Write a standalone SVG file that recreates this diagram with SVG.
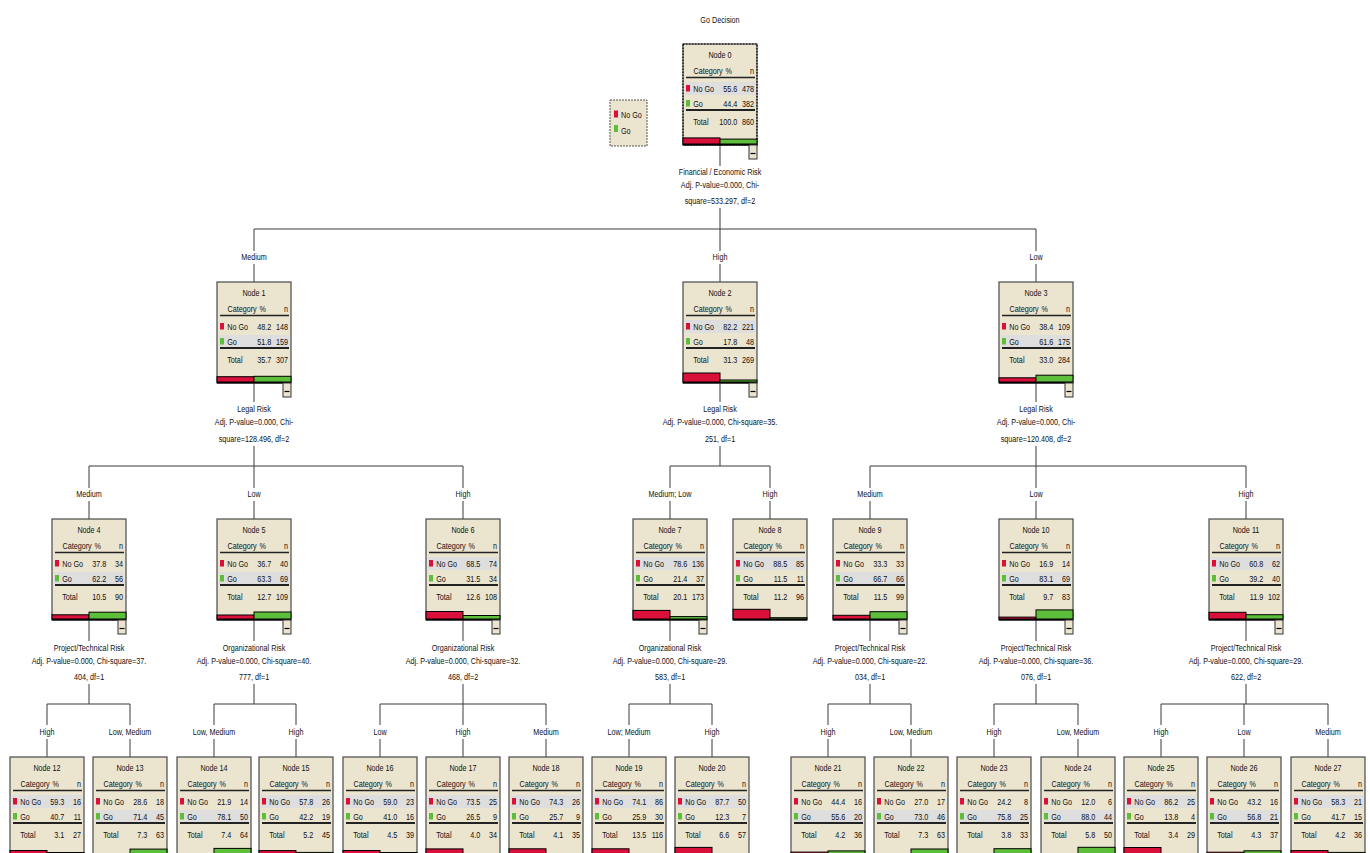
<svg xmlns="http://www.w3.org/2000/svg" xmlns:xlink="http://www.w3.org/1999/xlink" width="1370" height="853" viewBox="0 0 1370 853">
<style>
text{font-family:"Liberation Sans",Arial,sans-serif;font-size:9.5px;fill:#111}
.m{text-anchor:middle}
.e{text-anchor:end}
.bx{fill:#EBE4CF;stroke:#4a4a4a;stroke-width:1.2}
.hl{fill:#DEDEDE}
.r{fill:#D8103A;stroke:#000;stroke-width:1}
.g{fill:#5CBE3A;stroke:#000;stroke-width:1}
.c path{stroke:#3a3a3a;stroke-width:1;fill:none}
</style>
<defs>
<g id="tc">
<line x1="3" x2="72" y1="33.5" y2="33.5" stroke="#222" stroke-width="1.3"/>
<line x1="3" x2="72" y1="66" y2="66" stroke="#222" stroke-width="2"/>
<rect x="3" y="41" width="4" height="6.5" fill="#D8103A"/>
<rect x="3" y="56" width="4" height="6.5" fill="#5CBE3A"/>
<g transform="scale(.76 1)">
<text x="13.8" y="30.3">Category</text>
<text class="m" x="60" y="30.3">%</text>
<text class="e" x="93.4" y="30.3">n</text>
<text x="13.5" y="47.9">No Go</text>
<text x="13.5" y="62.9">Go</text>
<text x="13.5" y="81.4">Total</text>
</g>
<line x1="0" x2="74" y1="100.6" y2="100.6" stroke="#000" stroke-width="1.6"/>
</g>
<g id="tN"><rect class="bx" width="74" height="101"/><rect class="hl" x="2" y="38" width="70" height="13"/><use href="#tc"/></g>
<g id="tG"><rect class="bx" width="74" height="101"/><rect class="hl" x="2" y="53" width="70" height="12"/><use href="#tc"/></g>
<g id="mn"><rect x="66" y="101" width="8" height="14" fill="#EBE4CF" stroke="#333" stroke-width="1"/><line x1="67.5" x2="72.5" y1="109.5" y2="109.5" stroke="#000" stroke-width="1.2"/></g>
</defs>
<rect width="1370" height="853" fill="#fff"/>
<text class="m" transform="translate(720 23.4) scale(.76 1)">Go Decision</text>

<g id="legend">
<rect x="610" y="100" width="37" height="46" fill="#EBE4CF" stroke="#555" stroke-dasharray="2 1"/>
<rect x="614" y="110.5" width="4" height="7" fill="#D8103A"/>
<text transform="translate(621 118.4) scale(.76 1)">No Go</text>
<rect x="614" y="125" width="4" height="7" fill="#5CBE3A"/>
<text transform="translate(621 134) scale(.76 1)">Go</text>
</g>

<g id="connectors" class="c">
<path d="M720 145V166M720 208V229M254 229H1036M254 229V251M254 264V282M720 229V251M720 264V282M1036 229V251M1036 264V282"/>
<path d="M254 383V402M254 446V466M89 466H463M89 466V488M89 501V519M254 466V488M254 501V519M463 466V488M463 501V519"/>
<path d="M720 383V402M720 446V466M670 466H770M670 466V488M670 501V519M770 466V488M770 501V519"/>
<path d="M1036 383V402M1036 446V466M870 466H1246M870 466V488M870 501V519M1036 466V488M1036 501V519M1246 466V488M1246 501V519"/>
<path d="M89 620V641M89 684V704M47 704H130M47 704V725M47 739V757M130 704V725M130 739V757"/>
<path d="M254 620V641M254 684V704M214 704H296M214 704V725M214 739V757M296 704V725M296 739V757"/>
<path d="M463 620V641M463 684V704M380 704H546M380 704V725M380 739V757M463 704V725M463 739V757M546 704V725M546 739V757"/>
<path d="M670 620V641M670 684V704M629 704H712M629 704V725M629 739V757M712 704V725M712 739V757"/>
<path d="M870 620V641M870 684V704M828 704H911M828 704V725M828 739V757M911 704V725M911 739V757"/>
<path d="M1036 620V641M1036 684V704M994 704H1078M994 704V725M994 739V757M1078 704V725M1078 739V757"/>
<path d="M1246 620V641M1246 684V704M1161 704H1328M1161 704V725M1161 739V757M1244 704V725M1244 739V757M1328 704V725M1328 739V757"/>
</g>

<g id="connector-labels">
<text class="m" transform="translate(720 175.4) scale(.76 1)">Financial / Economic Risk</text>
<text class="m" transform="translate(720 188.4) scale(.76 1)">Adj. P-value=0.000, Chi-</text>
<text class="m" transform="translate(720 204.4) scale(.76 1)">square=533.297, df=2</text>
<text class="m" transform="translate(254 260.4) scale(.76 1)">Medium</text>
<text class="m" transform="translate(720 260.4) scale(.76 1)">High</text>
<text class="m" transform="translate(1036 260.4) scale(.76 1)">Low</text>

<text class="m" transform="translate(254 412.4) scale(.76 1)">Legal Risk</text>
<text class="m" transform="translate(254 424.9) scale(.76 1)">Adj. P-value=0.000, Chi-</text>
<text class="m" transform="translate(254 442.4) scale(.76 1)">square=128.496, df=2</text>
<text class="m" transform="translate(720 412.4) scale(.76 1)">Legal Risk</text>
<text class="m" transform="translate(720 424.9) scale(.76 1)">Adj. P-value=0.000, Chi-square=35.</text>
<text class="m" transform="translate(720 442.4) scale(.76 1)">251, df=1</text>
<text class="m" transform="translate(1036 412.4) scale(.76 1)">Legal Risk</text>
<text class="m" transform="translate(1036 424.9) scale(.76 1)">Adj. P-value=0.000, Chi-</text>
<text class="m" transform="translate(1036 442.4) scale(.76 1)">square=120.408, df=2</text>

<text class="m" transform="translate(89 497.4) scale(.76 1)">Medium</text>
<text class="m" transform="translate(254 497.4) scale(.76 1)">Low</text>
<text class="m" transform="translate(463 497.4) scale(.76 1)">High</text>
<text class="m" transform="translate(670 497.4) scale(.76 1)">Medium; Low</text>
<text class="m" transform="translate(770 497.4) scale(.76 1)">High</text>
<text class="m" transform="translate(870 497.4) scale(.76 1)">Medium</text>
<text class="m" transform="translate(1036 497.4) scale(.76 1)">Low</text>
<text class="m" transform="translate(1246 497.4) scale(.76 1)">High</text>

<text class="m" transform="translate(89 651.4) scale(.76 1)">Project/Technical Risk</text>
<text class="m" transform="translate(89 663.9) scale(.76 1)">Adj. P-value=0.000, Chi-square=37.</text>
<text class="m" transform="translate(89 680.4) scale(.76 1)">404, df=1</text>
<text class="m" transform="translate(254 651.4) scale(.76 1)">Organizational Risk</text>
<text class="m" transform="translate(254 663.9) scale(.76 1)">Adj. P-value=0.000, Chi-square=40.</text>
<text class="m" transform="translate(254 680.4) scale(.76 1)">777, df=1</text>
<text class="m" transform="translate(463 651.4) scale(.76 1)">Organizational Risk</text>
<text class="m" transform="translate(463 663.9) scale(.76 1)">Adj. P-value=0.000, Chi-square=32.</text>
<text class="m" transform="translate(463 680.4) scale(.76 1)">468, df=2</text>
<text class="m" transform="translate(670 651.4) scale(.76 1)">Organizational Risk</text>
<text class="m" transform="translate(670 663.9) scale(.76 1)">Adj. P-value=0.000, Chi-square=29.</text>
<text class="m" transform="translate(670 680.4) scale(.76 1)">583, df=1</text>
<text class="m" transform="translate(870 651.4) scale(.76 1)">Project/Technical Risk</text>
<text class="m" transform="translate(870 663.9) scale(.76 1)">Adj. P-value=0.000, Chi-square=22.</text>
<text class="m" transform="translate(870 680.4) scale(.76 1)">034, df=1</text>
<text class="m" transform="translate(1036 651.4) scale(.76 1)">Project/Technical Risk</text>
<text class="m" transform="translate(1036 663.9) scale(.76 1)">Adj. P-value=0.000, Chi-square=36.</text>
<text class="m" transform="translate(1036 680.4) scale(.76 1)">076, df=1</text>
<text class="m" transform="translate(1246 651.4) scale(.76 1)">Project/Technical Risk</text>
<text class="m" transform="translate(1246 663.9) scale(.76 1)">Adj. P-value=0.000, Chi-square=29.</text>
<text class="m" transform="translate(1246 680.4) scale(.76 1)">622, df=2</text>

<text class="m" transform="translate(47 735.4) scale(.76 1)">High</text>
<text class="m" transform="translate(130 735.4) scale(.76 1)">Low, Medium</text>
<text class="m" transform="translate(214 735.4) scale(.76 1)">Low, Medium</text>
<text class="m" transform="translate(296 735.4) scale(.76 1)">High</text>
<text class="m" transform="translate(380 735.4) scale(.76 1)">Low</text>
<text class="m" transform="translate(463 735.4) scale(.76 1)">High</text>
<text class="m" transform="translate(546 735.4) scale(.76 1)">Medium</text>
<text class="m" transform="translate(629 735.4) scale(.76 1)">Low; Medium</text>
<text class="m" transform="translate(712 735.4) scale(.76 1)">High</text>
<text class="m" transform="translate(828 735.4) scale(.76 1)">High</text>
<text class="m" transform="translate(911 735.4) scale(.76 1)">Low, Medium</text>
<text class="m" transform="translate(994 735.4) scale(.76 1)">High</text>
<text class="m" transform="translate(1078 735.4) scale(.76 1)">Low, Medium</text>
<text class="m" transform="translate(1161 735.4) scale(.76 1)">High</text>
<text class="m" transform="translate(1244 735.4) scale(.76 1)">Low</text>
<text class="m" transform="translate(1328 735.4) scale(.76 1)">Medium</text>
</g>

<g id="node0" transform="translate(683 44)"><use href="#tN"/><rect width="74" height="101" fill="none" stroke="#000" stroke-width="1.2" stroke-dasharray="1.5 1.5"/><g transform="scale(.76 1)"><text class="m" x="48.7" y="13.8">Node 0</text><text class="e" x="71.3" y="47.9">55.6</text><text class="e" x="93.6" y="47.9">478</text><text class="e" x="71.3" y="62.9">44.4</text><text class="e" x="93.6" y="62.9">382</text><text class="e" x="71.3" y="81.4">100.0</text><text class="e" x="93.6" y="81.4">860</text></g><rect class="r" x="0" y="93.9" width="37" height="6.1"/><rect class="g" x="37" y="95.1" width="37" height="4.9"/><use href="#mn"/></g>

<g id="node1" transform="translate(217 282)"><use href="#tG"/><g transform="scale(.76 1)"><text class="m" x="48.7" y="13.8">Node 1</text><text class="e" x="71.3" y="47.9">48.2</text><text class="e" x="93.6" y="47.9">148</text><text class="e" x="71.3" y="62.9">51.8</text><text class="e" x="93.6" y="62.9">159</text><text class="e" x="71.3" y="81.4">35.7</text><text class="e" x="93.6" y="81.4">307</text></g><rect class="r" x="0" y="94.7" width="37" height="5.3"/><rect class="g" x="37" y="94.3" width="37" height="5.7"/><use href="#mn"/></g>

<g id="node2" transform="translate(683 282)"><use href="#tN"/><g transform="scale(.76 1)"><text class="m" x="48.7" y="13.8">Node 2</text><text class="e" x="71.3" y="47.9">82.2</text><text class="e" x="93.6" y="47.9">221</text><text class="e" x="71.3" y="62.9">17.8</text><text class="e" x="93.6" y="62.9">48</text><text class="e" x="71.3" y="81.4">31.3</text><text class="e" x="93.6" y="81.4">269</text></g><rect class="r" x="0" y="91" width="37" height="9"/><rect class="g" x="37" y="98" width="37" height="2"/><use href="#mn"/></g>

<g id="node3" transform="translate(999 282)"><use href="#tG"/><g transform="scale(.76 1)"><text class="m" x="48.7" y="13.8">Node 3</text><text class="e" x="71.3" y="47.9">38.4</text><text class="e" x="93.6" y="47.9">109</text><text class="e" x="71.3" y="62.9">61.6</text><text class="e" x="93.6" y="62.9">175</text><text class="e" x="71.3" y="81.4">33.0</text><text class="e" x="93.6" y="81.4">284</text></g><rect class="r" x="0" y="95.8" width="37" height="4.2"/><rect class="g" x="37" y="93.2" width="37" height="6.8"/><use href="#mn"/></g>

<g id="node4" transform="translate(52 519)"><use href="#tG"/><g transform="scale(.76 1)"><text class="m" x="48.7" y="13.8">Node 4</text><text class="e" x="71.3" y="47.9">37.8</text><text class="e" x="93.6" y="47.9">34</text><text class="e" x="71.3" y="62.9">62.2</text><text class="e" x="93.6" y="62.9">56</text><text class="e" x="71.3" y="81.4">10.5</text><text class="e" x="93.6" y="81.4">90</text></g><rect class="r" x="0" y="95.8" width="37" height="4.2"/><rect class="g" x="37" y="93.2" width="37" height="6.8"/><use href="#mn"/></g>

<g id="node5" transform="translate(217 519)"><use href="#tG"/><g transform="scale(.76 1)"><text class="m" x="48.7" y="13.8">Node 5</text><text class="e" x="71.3" y="47.9">36.7</text><text class="e" x="93.6" y="47.9">40</text><text class="e" x="71.3" y="62.9">63.3</text><text class="e" x="93.6" y="62.9">69</text><text class="e" x="71.3" y="81.4">12.7</text><text class="e" x="93.6" y="81.4">109</text></g><rect class="r" x="0" y="96" width="37" height="4"/><rect class="g" x="37" y="93" width="37" height="7"/><use href="#mn"/></g>

<g id="node6" transform="translate(426 519)"><use href="#tN"/><g transform="scale(.76 1)"><text class="m" x="48.7" y="13.8">Node 6</text><text class="e" x="71.3" y="47.9">68.5</text><text class="e" x="93.6" y="47.9">74</text><text class="e" x="71.3" y="62.9">31.5</text><text class="e" x="93.6" y="62.9">34</text><text class="e" x="71.3" y="81.4">12.6</text><text class="e" x="93.6" y="81.4">108</text></g><rect class="r" x="0" y="92.5" width="37" height="7.5"/><rect class="g" x="37" y="96.5" width="37" height="3.5"/><use href="#mn"/></g>

<g id="node7" transform="translate(633 519)"><use href="#tN"/><g transform="scale(.76 1)"><text class="m" x="48.7" y="13.8">Node 7</text><text class="e" x="71.3" y="47.9">78.6</text><text class="e" x="93.6" y="47.9">136</text><text class="e" x="71.3" y="62.9">21.4</text><text class="e" x="93.6" y="62.9">37</text><text class="e" x="71.3" y="81.4">20.1</text><text class="e" x="93.6" y="81.4">173</text></g><rect class="r" x="0" y="91.4" width="37" height="8.6"/><rect class="g" x="37" y="97.6" width="37" height="2.4"/><use href="#mn"/></g>

<g id="node8" transform="translate(733 519)"><use href="#tN"/><g transform="scale(.76 1)"><text class="m" x="48.7" y="13.8">Node 8</text><text class="e" x="71.3" y="47.9">88.5</text><text class="e" x="93.6" y="47.9">85</text><text class="e" x="71.3" y="62.9">11.5</text><text class="e" x="93.6" y="62.9">11</text><text class="e" x="71.3" y="81.4">11.2</text><text class="e" x="93.6" y="81.4">96</text></g><rect class="r" x="0" y="90.3" width="37" height="9.7"/><rect class="g" x="37" y="98.7" width="37" height="1.3"/></g>

<g id="node9" transform="translate(833 519)"><use href="#tG"/><g transform="scale(.76 1)"><text class="m" x="48.7" y="13.8">Node 9</text><text class="e" x="71.3" y="47.9">33.3</text><text class="e" x="93.6" y="47.9">33</text><text class="e" x="71.3" y="62.9">66.7</text><text class="e" x="93.6" y="62.9">66</text><text class="e" x="71.3" y="81.4">11.5</text><text class="e" x="93.6" y="81.4">99</text></g><rect class="r" x="0" y="96.3" width="37" height="3.7"/><rect class="g" x="37" y="92.7" width="37" height="7.3"/><use href="#mn"/></g>

<g id="node10" transform="translate(999 519)"><use href="#tG"/><g transform="scale(.76 1)"><text class="m" x="48.7" y="13.8">Node 10</text><text class="e" x="71.3" y="47.9">16.9</text><text class="e" x="93.6" y="47.9">14</text><text class="e" x="71.3" y="62.9">83.1</text><text class="e" x="93.6" y="62.9">69</text><text class="e" x="71.3" y="81.4">9.7</text><text class="e" x="93.6" y="81.4">83</text></g><rect class="r" x="0" y="98.1" width="37" height="1.9"/><rect class="g" x="37" y="90.9" width="37" height="9.1"/><use href="#mn"/></g>

<g id="node11" transform="translate(1209 519)"><use href="#tN"/><g transform="scale(.76 1)"><text class="m" x="48.7" y="13.8">Node 11</text><text class="e" x="71.3" y="47.9">60.8</text><text class="e" x="93.6" y="47.9">62</text><text class="e" x="71.3" y="62.9">39.2</text><text class="e" x="93.6" y="62.9">40</text><text class="e" x="71.3" y="81.4">11.9</text><text class="e" x="93.6" y="81.4">102</text></g><rect class="r" x="0" y="93.3" width="37" height="6.7"/><rect class="g" x="37" y="95.7" width="37" height="4.3"/><use href="#mn"/></g>

<g id="node12" transform="translate(10 757)"><use href="#tN"/><g transform="scale(.76 1)"><text class="m" x="48.7" y="13.8">Node 12</text><text class="e" x="71.3" y="47.9">59.3</text><text class="e" x="93.6" y="47.9">16</text><text class="e" x="71.3" y="62.9">40.7</text><text class="e" x="93.6" y="62.9">11</text><text class="e" x="71.3" y="81.4">3.1</text><text class="e" x="93.6" y="81.4">27</text></g><rect class="r" x="0" y="93.5" width="37" height="6.5"/><rect class="g" x="37" y="95.5" width="37" height="4.5"/></g>

<g id="node13" transform="translate(93 757)"><use href="#tG"/><g transform="scale(.76 1)"><text class="m" x="48.7" y="13.8">Node 13</text><text class="e" x="71.3" y="47.9">28.6</text><text class="e" x="93.6" y="47.9">18</text><text class="e" x="71.3" y="62.9">71.4</text><text class="e" x="93.6" y="62.9">45</text><text class="e" x="71.3" y="81.4">7.3</text><text class="e" x="93.6" y="81.4">63</text></g><rect class="r" x="0" y="96.9" width="37" height="3.1"/><rect class="g" x="37" y="92.1" width="37" height="7.9"/></g>

<g id="node14" transform="translate(177 757)"><use href="#tG"/><g transform="scale(.76 1)"><text class="m" x="48.7" y="13.8">Node 14</text><text class="e" x="71.3" y="47.9">21.9</text><text class="e" x="93.6" y="47.9">14</text><text class="e" x="71.3" y="62.9">78.1</text><text class="e" x="93.6" y="62.9">50</text><text class="e" x="71.3" y="81.4">7.4</text><text class="e" x="93.6" y="81.4">64</text></g><rect class="r" x="0" y="97.6" width="37" height="2.4"/><rect class="g" x="37" y="91.4" width="37" height="8.6"/></g>

<g id="node15" transform="translate(259 757)"><use href="#tN"/><g transform="scale(.76 1)"><text class="m" x="48.7" y="13.8">Node 15</text><text class="e" x="71.3" y="47.9">57.8</text><text class="e" x="93.6" y="47.9">26</text><text class="e" x="71.3" y="62.9">42.2</text><text class="e" x="93.6" y="62.9">19</text><text class="e" x="71.3" y="81.4">5.2</text><text class="e" x="93.6" y="81.4">45</text></g><rect class="r" x="0" y="93.6" width="37" height="6.4"/><rect class="g" x="37" y="95.4" width="37" height="4.6"/></g>

<g id="node16" transform="translate(343 757)"><use href="#tN"/><g transform="scale(.76 1)"><text class="m" x="48.7" y="13.8">Node 16</text><text class="e" x="71.3" y="47.9">59.0</text><text class="e" x="93.6" y="47.9">23</text><text class="e" x="71.3" y="62.9">41.0</text><text class="e" x="93.6" y="62.9">16</text><text class="e" x="71.3" y="81.4">4.5</text><text class="e" x="93.6" y="81.4">39</text></g><rect class="r" x="0" y="93.5" width="37" height="6.5"/><rect class="g" x="37" y="95.5" width="37" height="4.5"/></g>

<g id="node17" transform="translate(426 757)"><use href="#tN"/><g transform="scale(.76 1)"><text class="m" x="48.7" y="13.8">Node 17</text><text class="e" x="71.3" y="47.9">73.5</text><text class="e" x="93.6" y="47.9">25</text><text class="e" x="71.3" y="62.9">26.5</text><text class="e" x="93.6" y="62.9">9</text><text class="e" x="71.3" y="81.4">4.0</text><text class="e" x="93.6" y="81.4">34</text></g><rect class="r" x="0" y="91.9" width="37" height="8.1"/><rect class="g" x="37" y="97.1" width="37" height="2.9"/></g>

<g id="node18" transform="translate(509 757)"><use href="#tN"/><g transform="scale(.76 1)"><text class="m" x="48.7" y="13.8">Node 18</text><text class="e" x="71.3" y="47.9">74.3</text><text class="e" x="93.6" y="47.9">26</text><text class="e" x="71.3" y="62.9">25.7</text><text class="e" x="93.6" y="62.9">9</text><text class="e" x="71.3" y="81.4">4.1</text><text class="e" x="93.6" y="81.4">35</text></g><rect class="r" x="0" y="91.8" width="37" height="8.2"/><rect class="g" x="37" y="97.2" width="37" height="2.8"/></g>

<g id="node19" transform="translate(592 757)"><use href="#tN"/><g transform="scale(.76 1)"><text class="m" x="48.7" y="13.8">Node 19</text><text class="e" x="71.3" y="47.9">74.1</text><text class="e" x="93.6" y="47.9">86</text><text class="e" x="71.3" y="62.9">25.9</text><text class="e" x="93.6" y="62.9">30</text><text class="e" x="71.3" y="81.4">13.5</text><text class="e" x="93.6" y="81.4">116</text></g><rect class="r" x="0" y="91.8" width="37" height="8.2"/><rect class="g" x="37" y="97.2" width="37" height="2.8"/></g>

<g id="node20" transform="translate(675 757)"><use href="#tN"/><g transform="scale(.76 1)"><text class="m" x="48.7" y="13.8">Node 20</text><text class="e" x="71.3" y="47.9">87.7</text><text class="e" x="93.6" y="47.9">50</text><text class="e" x="71.3" y="62.9">12.3</text><text class="e" x="93.6" y="62.9">7</text><text class="e" x="71.3" y="81.4">6.6</text><text class="e" x="93.6" y="81.4">57</text></g><rect class="r" x="0" y="90.4" width="37" height="9.6"/><rect class="g" x="37" y="98.6" width="37" height="1.4"/></g>

<g id="node21" transform="translate(791 757)"><use href="#tG"/><g transform="scale(.76 1)"><text class="m" x="48.7" y="13.8">Node 21</text><text class="e" x="71.3" y="47.9">44.4</text><text class="e" x="93.6" y="47.9">16</text><text class="e" x="71.3" y="62.9">55.6</text><text class="e" x="93.6" y="62.9">20</text><text class="e" x="71.3" y="81.4">4.2</text><text class="e" x="93.6" y="81.4">36</text></g><rect class="r" x="0" y="95.1" width="37" height="4.9"/><rect class="g" x="37" y="93.9" width="37" height="6.1"/></g>

<g id="node22" transform="translate(874 757)"><use href="#tG"/><g transform="scale(.76 1)"><text class="m" x="48.7" y="13.8">Node 22</text><text class="e" x="71.3" y="47.9">27.0</text><text class="e" x="93.6" y="47.9">17</text><text class="e" x="71.3" y="62.9">73.0</text><text class="e" x="93.6" y="62.9">46</text><text class="e" x="71.3" y="81.4">7.3</text><text class="e" x="93.6" y="81.4">63</text></g><rect class="r" x="0" y="97" width="37" height="3"/><rect class="g" x="37" y="92" width="37" height="8"/></g>

<g id="node23" transform="translate(957 757)"><use href="#tG"/><g transform="scale(.76 1)"><text class="m" x="48.7" y="13.8">Node 23</text><text class="e" x="71.3" y="47.9">24.2</text><text class="e" x="93.6" y="47.9">8</text><text class="e" x="71.3" y="62.9">75.8</text><text class="e" x="93.6" y="62.9">25</text><text class="e" x="71.3" y="81.4">3.8</text><text class="e" x="93.6" y="81.4">33</text></g><rect class="r" x="0" y="97.3" width="37" height="2.7"/><rect class="g" x="37" y="91.7" width="37" height="8.3"/></g>

<g id="node24" transform="translate(1041 757)"><use href="#tG"/><g transform="scale(.76 1)"><text class="m" x="48.7" y="13.8">Node 24</text><text class="e" x="71.3" y="47.9">12.0</text><text class="e" x="93.6" y="47.9">6</text><text class="e" x="71.3" y="62.9">88.0</text><text class="e" x="93.6" y="62.9">44</text><text class="e" x="71.3" y="81.4">5.8</text><text class="e" x="93.6" y="81.4">50</text></g><rect class="r" x="0" y="98.7" width="37" height="1.3"/><rect class="g" x="37" y="90.3" width="37" height="9.7"/></g>

<g id="node25" transform="translate(1124 757)"><use href="#tN"/><g transform="scale(.76 1)"><text class="m" x="48.7" y="13.8">Node 25</text><text class="e" x="71.3" y="47.9">86.2</text><text class="e" x="93.6" y="47.9">25</text><text class="e" x="71.3" y="62.9">13.8</text><text class="e" x="93.6" y="62.9">4</text><text class="e" x="71.3" y="81.4">3.4</text><text class="e" x="93.6" y="81.4">29</text></g><rect class="r" x="0" y="90.5" width="37" height="9.5"/><rect class="g" x="37" y="98.5" width="37" height="1.5"/></g>

<g id="node26" transform="translate(1207 757)"><use href="#tG"/><g transform="scale(.76 1)"><text class="m" x="48.7" y="13.8">Node 26</text><text class="e" x="71.3" y="47.9">43.2</text><text class="e" x="93.6" y="47.9">16</text><text class="e" x="71.3" y="62.9">56.8</text><text class="e" x="93.6" y="62.9">21</text><text class="e" x="71.3" y="81.4">4.3</text><text class="e" x="93.6" y="81.4">37</text></g><rect class="r" x="0" y="95.2" width="37" height="4.8"/><rect class="g" x="37" y="93.8" width="37" height="6.2"/></g>

<g id="node27" transform="translate(1291 757)"><use href="#tN"/><g transform="scale(.76 1)"><text class="m" x="48.7" y="13.8">Node 27</text><text class="e" x="71.3" y="47.9">58.3</text><text class="e" x="93.6" y="47.9">21</text><text class="e" x="71.3" y="62.9">41.7</text><text class="e" x="93.6" y="62.9">15</text><text class="e" x="71.3" y="81.4">4.2</text><text class="e" x="93.6" y="81.4">36</text></g><rect class="r" x="0" y="93.6" width="37" height="6.4"/><rect class="g" x="37" y="95.4" width="37" height="4.6"/></g>
</svg>
